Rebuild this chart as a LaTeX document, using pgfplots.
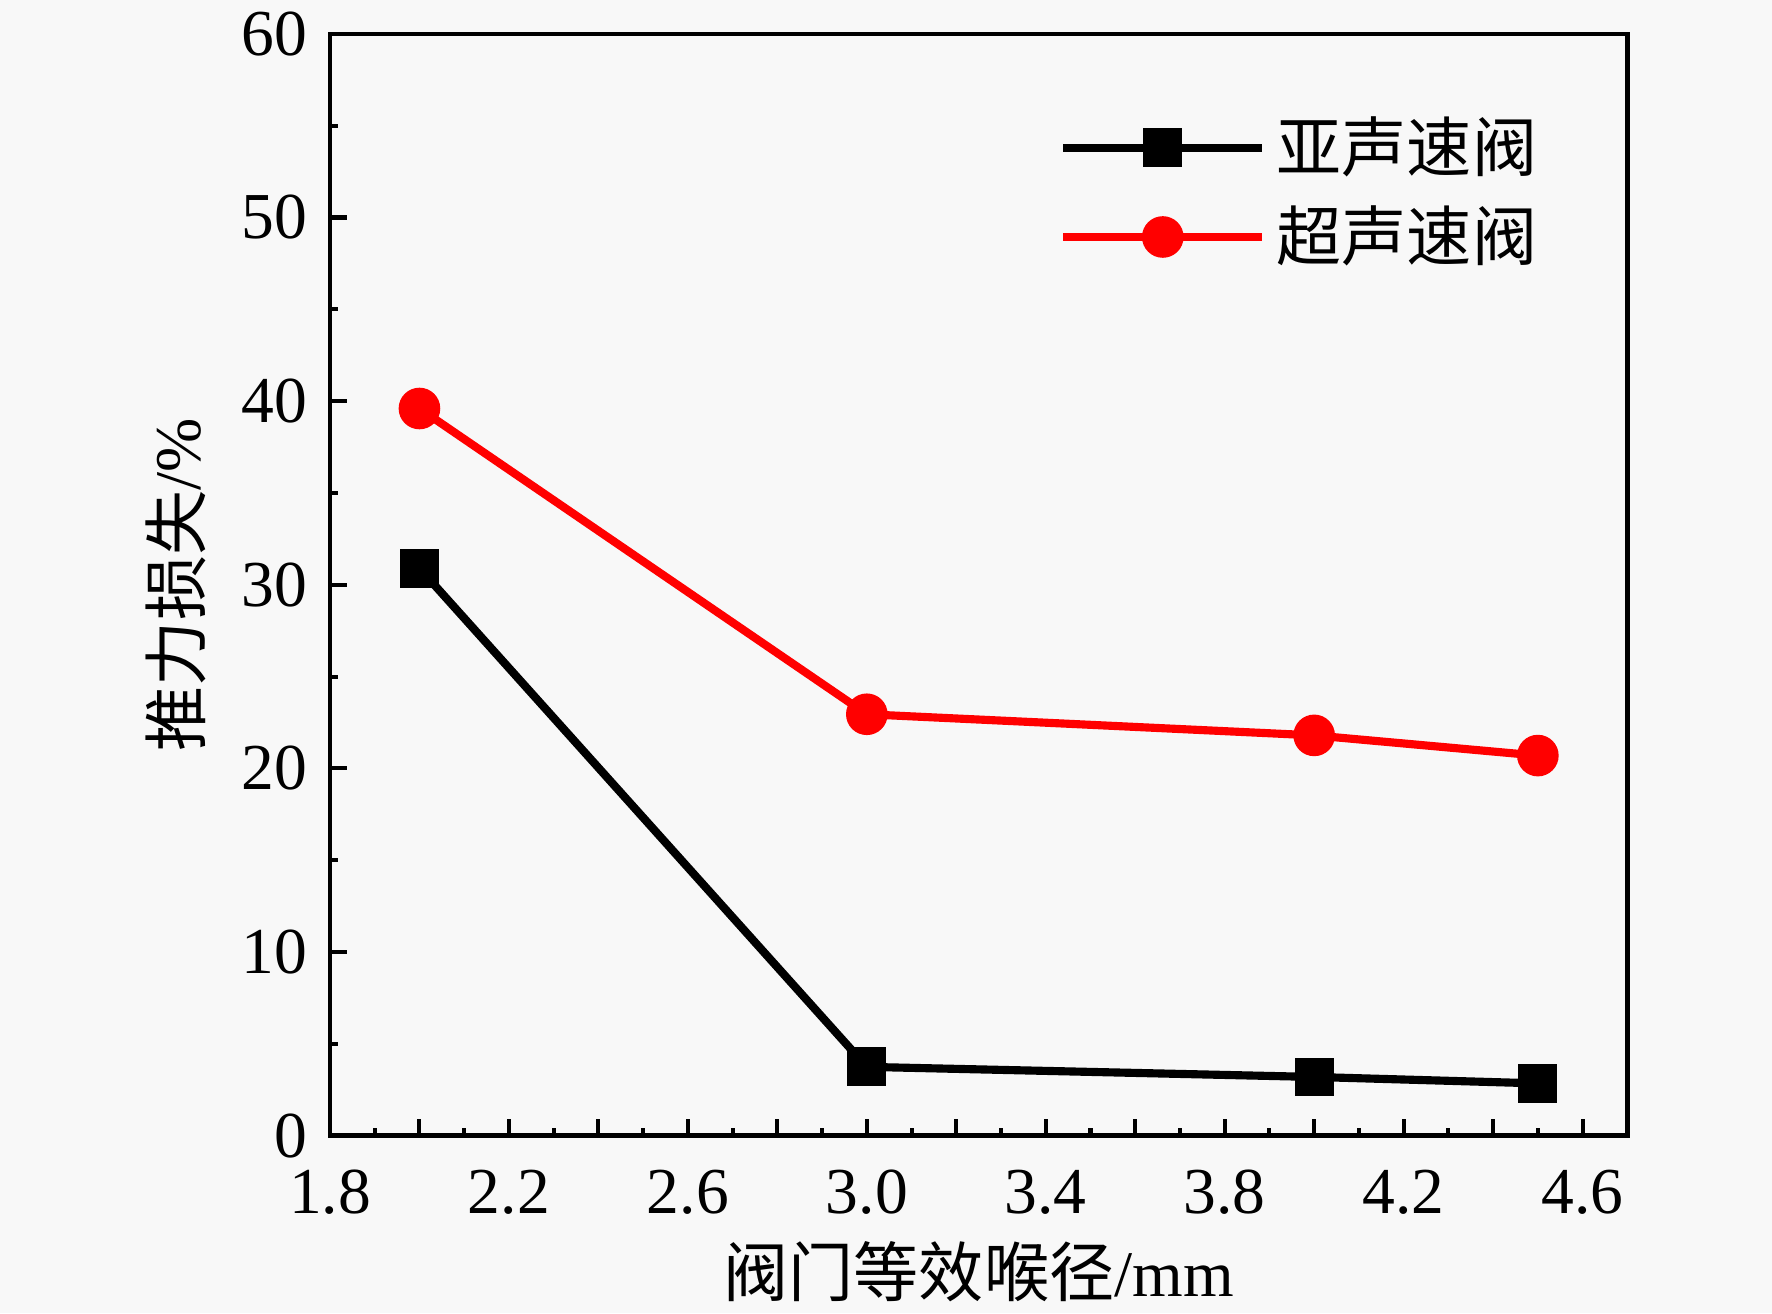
\documentclass[border=0pt]{standalone}
\usepackage{pgfplots}
\pgfplotsset{compat=1.18}
\usepackage{fontspec}
\setmainfont{Liberation Serif}
\newfontfamily\cjk{Noto Sans CJK SC}
\definecolor{bg}{RGB}{248,248,248}
\begin{document}
\begin{tikzpicture}
\path[use as bounding box, fill=bg] (0,0) rectangle (392pt,290.5pt);
\begin{axis}[
  at={(73pt,39.25pt)}, anchor=south west,
  scale only axis, width=287pt, height=243.75pt,
  xmin=1.8, xmax=4.7, ymin=0, ymax=60,
  axis line style={line width=1pt},
  tick pos=left, tick align=inside,
  major tick length=3.75pt, minor tick length=1.75pt,
  every tick/.style={line width=0.9pt, black},
  xtick={1.8,2.0,2.2,2.4,2.6,2.8,3.0,3.2,3.4,3.6,3.8,4.0,4.2,4.4,4.6},
  xticklabels={1.8,,2.2,,2.6,,3.0,,3.4,,3.8,,4.2,,4.6},
  minor x tick num=1,
  ytick={0,10,20,30,40,50,60},
  minor y tick num=1,
  /pgf/number format/assume math mode=true,
  ticklabel style={font=\fontsize{14.5}{16}\selectfont, inner sep=0.8pt},
  xticklabel style={yshift=-6.5pt},
  yticklabel style={xshift=-4pt},
  xlabel={{\cjk 阀门等效喉径}/mm},
  ylabel={{\cjk 推力损失}/\%},
  label style={font=\fontsize{14.4}{17}\selectfont},
  xlabel style={at={(axis description cs:0.5,0)}, anchor=center, yshift=-30pt},
  ylabel style={at={(axis description cs:0,0.5)}, anchor=center, yshift=34pt},
  legend style={at={(0.551,0.943)}, anchor=north west, draw=none, fill=none,
    font=\fontsize{14.4}{17}\selectfont, row sep=1.5pt,
    nodes={inner sep=2.3pt}},
  legend cell align=left,
  legend image code/.code={
    \draw[#1, mark repeat=2, mark phase=2] plot coordinates {(0pt,0pt) (22pt,0pt) (44pt,0pt)};
  },
]
\addplot[black, line width=1.8pt, mark=square*, mark size=3.4pt, mark options={solid, fill=black}]
  coordinates {(2.0,30.9) (3.0,3.75) (4.0,3.2) (4.5,2.85)};
\addlegendentry{\cjk 亚声速阀}
\addplot[red, line width=1.8pt, mark=*, mark size=3.7pt, mark options={solid, fill=red}]
  coordinates {(2.0,39.6) (3.0,22.95) (4.0,21.8) (4.5,20.7)};
\addlegendentry{\cjk 超声速阀}
\end{axis}
\end{tikzpicture}
\end{document}
